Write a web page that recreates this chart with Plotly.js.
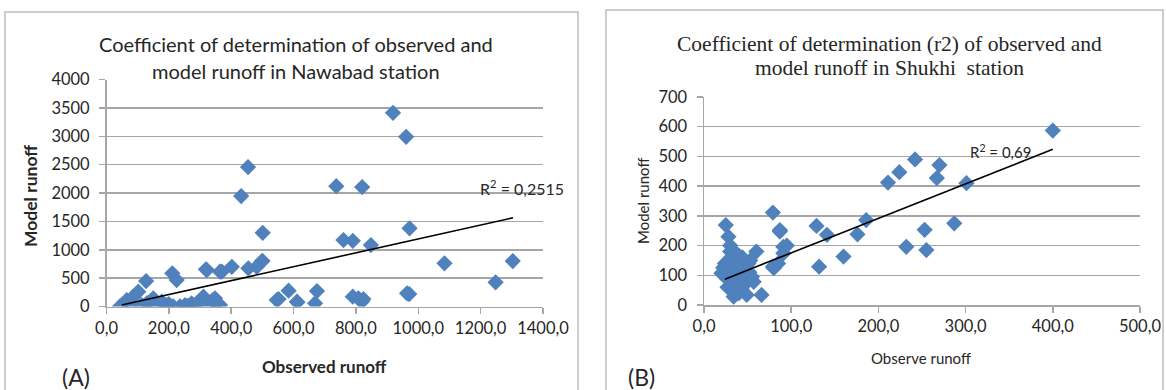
<!DOCTYPE html>
<html>
<head>
<meta charset="utf-8">
<script src="https://cdn.plot.ly/plotly-3.0.1.min.js"></script>
<style>html,body{margin:0;padding:0;background:#fff;}#chart{width:1166px;height:390px;}</style>
</head>
<body>
<div id="chart"></div>
<script>
// ---- Chart A: Nawabad station ----
const nawabadObserved = [919, 961, 972, 1084, 1303, 1248, 971, 454, 432, 737, 820, 501, 500, 760, 790, 848,
  319, 370, 402, 455, 482, 211, 225, 127, 552, 584, 612, 669, 675, 790, 824, 808, 819,
  43, 65, 86, 102, 75, 113, 150, 156, 177, 193, 214, 236, 252, 273, 295, 311, 327, 348, 364,
  322, 364, 498, 546, 611, 964, 130, 200, 260, 285, 340, 355];
const nawabadModel = [3412, 2990, 1377, 760, 801, 426, 220, 2456, 1945, 2121, 2104, 1299, 806, 1170, 1158, 1083,
  655, 613, 700, 672, 700, 585, 467, 449, 132, 278, 74, 56, 273, 173, 132, 144, 85,
  0, 114, 173, 261, 26, 26, 144, 0, 85, 26, 0, 0, 26, 56, 85, 173, 26, 144, 26,
  643, 613, 789, 114, 85, 232, 60, 40, 10, 30, 110, 60];
const nawabadTrendX = [49, 1304];
const nawabadTrendY = [26, 1563];
const nawabadXTicks = [0, 200, 400, 600, 800, 1000, 1200, 1400];
const nawabadXTickText = ["0,0", "200,0", "400,0", "600,0", "800,0", "1000,0", "1200,0", "1400,0"];
const nawabadYTicks = [0, 500, 1000, 1500, 2000, 2500, 3000, 3500, 4000];

// ---- Chart B: Shukhi station ----
const shukhiObserved = [25, 28, 30, 24, 20, 26, 32, 34, 43, 49, 45, 51, 41, 60, 66, 57, 79, 91, 87, 95,
  79, 87, 91, 85, 80, 129, 141, 132, 160, 176, 186, 211, 224, 242, 270, 267, 301, 232, 253, 255, 287, 400,
  22, 28, 35, 38, 30, 36, 40, 27, 33, 45, 48, 52, 55, 38, 42, 30, 35, 25, 47, 53, 40, 29, 31, 44, 50, 26];
const shukhiModel = [269, 230, 180, 140, 107, 90, 62, 28, 56, 34, 118, 140, 163, 180, 34, 78, 129, 174, 247, 200,
  311, 252, 196, 140, 124, 266, 236, 129, 163, 238, 286, 412, 447, 490, 471, 427, 410, 196, 253, 185, 275, 587,
  125, 150, 140, 120, 100, 75, 95, 60, 45, 100, 130, 110, 95, 160, 135, 200, 180, 95, 70, 150, 40, 120, 160, 160, 85, 130];
const shukhiTrendX = [24, 400];
const shukhiTrendY = [87, 524];
const shukhiXTicks = [0, 100, 200, 300, 400, 500];
const shukhiXTickText = ["0,0", "100,0", "200,0", "300,0", "400,0", "500,0"];
const shukhiYTicks = [0, 100, 200, 300, 400, 500, 600, 700];

const W = 1166, H = 390;
const px = v => v / W;
const py = v => 1 - v / H;

const markerStyle = {symbol: 'diamond', size: 12.5, color: '#4F81BD', line: {width: 0}};
const traces = [
  {x: nawabadObserved, y: nawabadModel, type: 'scatter', mode: 'markers', marker: markerStyle, xaxis: 'x', yaxis: 'y', hoverinfo: 'none'},
  {x: nawabadTrendX, y: nawabadTrendY, type: 'scatter', mode: 'lines', line: {color: '#000', width: 1.6}, xaxis: 'x', yaxis: 'y', hoverinfo: 'none'},
  {x: shukhiObserved, y: shukhiModel, type: 'scatter', mode: 'markers', marker: markerStyle, xaxis: 'x2', yaxis: 'y2', hoverinfo: 'none'},
  {x: shukhiTrendX, y: shukhiTrendY, type: 'scatter', mode: 'lines', line: {color: '#000', width: 1.6}, xaxis: 'x2', yaxis: 'y2', hoverinfo: 'none'}
];

const tickFont = {family: 'Lato, "Liberation Sans", sans-serif', size: 16.5, color: '#262626'};
const gridCol = '#A6A6A6';
function xAxis(domain, range, vals, text, anchor) {
  return {domain: domain, range: range, anchor: anchor, tickvals: vals, ticktext: text,
    showgrid: false, zeroline: false, showline: true, linecolor: gridCol, linewidth: 1.5,
    ticks: 'outside', ticklen: 6, tickcolor: gridCol, tickwidth: 1.5, tickfont: tickFont, fixedrange: true};
}
function yAxis(domain, range, vals, anchor) {
  return {domain: domain, range: range, anchor: anchor, tickvals: vals,
    showgrid: true, gridcolor: gridCol, gridwidth: 1.5, zeroline: false, showline: true, linecolor: gridCol, linewidth: 1.5,
    ticks: 'outside', ticklen: 6, tickcolor: gridCol, tickwidth: 1.5, tickfont: tickFont, ticklabelstandoff: 6, fixedrange: true};
}

const calibri = 'Lato, "Liberation Sans", sans-serif';
const serif = '"Liberation Serif", "DejaVu Serif", serif';
function ann(text, x, y, font, extra) {
  return Object.assign({text: text, xref: 'paper', yref: 'paper', x: px(x), y: py(y), xanchor: 'center', yanchor: 'middle',
    showarrow: false, font: font}, extra || {});
}

const layout = {
  width: W, height: H, margin: {l: 0, r: 0, t: 0, b: 0}, showlegend: false,
  paper_bgcolor: '#fff', plot_bgcolor: 'rgba(0,0,0,0)',
  xaxis: xAxis([px(106.5), px(543)], [0, 1400], nawabadXTicks, nawabadXTickText, 'y'),
  yaxis: yAxis([py(306.5), py(79.5)], [0, 4000], nawabadYTicks, 'x'),
  xaxis2: xAxis([px(704), px(1140)], [0, 500], shukhiXTicks, shukhiXTickText, 'y2'),
  yaxis2: yAxis([py(305), py(97)], [0, 700], shukhiYTicks, 'x2'),
  shapes: [
    {type: 'rect', xref: 'paper', yref: 'paper', x0: px(5), x1: px(578), y0: py(400), y1: py(12), line: {color: '#BFBFBF', width: 1.5}},
    {type: 'rect', xref: 'paper', yref: 'paper', x0: px(606), x1: px(1163), y0: py(400), y1: py(10), line: {color: '#BFBFBF', width: 1.5}}
  ],
  annotations: [
    ann('Coefficient of determination of observed and', 296, 44, {family: calibri, size: 20, color: '#262626'}),
    ann('model runoff in Nawabad station', 296, 71, {family: calibri, size: 20, color: '#262626'}),
    ann('<b>Observed runoff</b>', 325, 366, {family: calibri, size: 17, color: '#262626'}),
    ann('<b>Model runoff</b>', 30, 196, {family: calibri, size: 17.5, color: '#262626'}, {textangle: -90}),
    ann('(A)', 76, 377, {family: calibri, size: 23, color: '#262626'}),
    ann('R<sup>2</sup> = 0,2515', 522, 187, {family: calibri, size: 16, color: '#262626'}),
    ann('Coefficient of determination (r2) of observed and', 889, 44, {family: serif, size: 21.5, color: '#262626'}),
    ann('model runoff in Shukhi  station', 889, 68, {family: serif, size: 21.5, color: '#262626'}),
    ann('Observe runoff', 921, 358, {family: calibri, size: 15, color: '#262626'}),
    ann('Model runoff', 643, 201, {family: calibri, size: 15, color: '#262626'}, {textangle: -90}),
    ann('(B)', 641, 377, {family: calibri, size: 23, color: '#262626'}),
    ann('R<sup>2</sup> = 0,69', 1000, 152, {family: calibri, size: 15, color: '#262626'})
  ]
};

Plotly.newPlot('chart', traces, layout, {displayModeBar: false, staticPlot: true});
</script>
</body>
</html>
